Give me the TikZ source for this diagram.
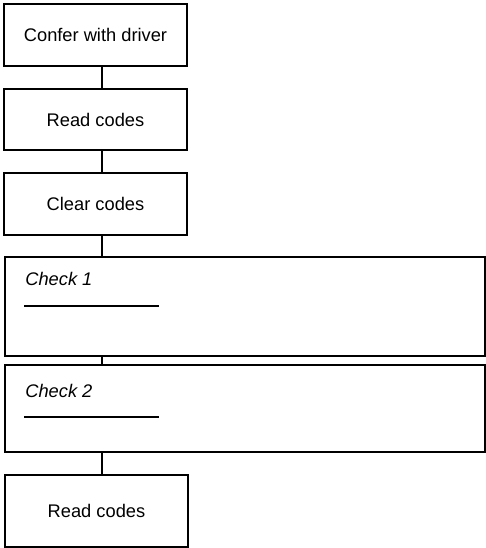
\documentclass[tikz,border=0pt]{standalone}
\usepackage{fontspec}
\setmainfont{Liberation Sans}
\usepackage{tikz}
\usetikzlibrary{positioning,calc}

\begin{document}
\begin{tikzpicture}[
    font=\fontsize{15.6}{18}\selectfont,
    stepbox/.style={
        draw=black,
        line width=1.5pt,
        minimum width=5.49cm,
        align=center,
        fill=white
    },
    checkbox/.style={
        draw=black,
        line width=1.5pt,
        minimum width=14.4cm,
        fill=white
    },
    checklabel/.style={
        anchor=west,
        inner sep=0pt,
        font=\fontsize{15.6}{18}\selectfont\itshape
    },
    link/.style={line width=1.5pt},
    blank/.style={line width=1.1pt}
]

\useasboundingbox (0,0) rectangle (14.58,-16.44);
\coordinate (spine) at (3.06,0);

% short steps
\node[stepbox, minimum height=1.86cm] (confer) at (2.865,-1.05)
{Confer with driver};

\node[stepbox, minimum height=1.83cm] (read) at (2.865,-3.585)
{Read codes};

\node[stepbox, minimum height=1.86cm] (clear) at (2.865,-6.12)
{Clear codes};

% checks
\node[checkbox, minimum height=2.97cm] (check1) at (7.35,-9.195) {};
\node[checklabel] (lab1) at ($(check1.north west)+(0.63,-0.69)$) {Check 1};
\coordinate (blank1) at ($(check1.north west)+(0.6,-1.5)$);
\draw[blank] (blank1) -- ++(4.05,0);

\node[checkbox, minimum height=2.61cm] (check2) at (7.35,-12.255) {};
\node[checklabel] (lab2) at ($(check2.north west)+(0.63,-0.81)$) {Check 2};
\coordinate (blank2) at ($(check2.north west)+(0.6,-1.59)$);
\draw[blank] (blank2) -- ++(4.05,0);

% last step
\node[stepbox, minimum height=2.16cm] (reread) at (2.895,-15.33)
{Read codes};

\draw[link] (confer.south -| spine) -- (read.north -| spine);
\draw[link] (read.south -| spine) -- (clear.north -| spine);
\draw[link] (clear.south -| spine) -- (check1.north -| spine);
\draw[link] (check1.south -| spine) -- (check2.north -| spine);
\draw[link] (check2.south -| spine) -- (reread.north -| spine);

\end{tikzpicture}
\end{document}
